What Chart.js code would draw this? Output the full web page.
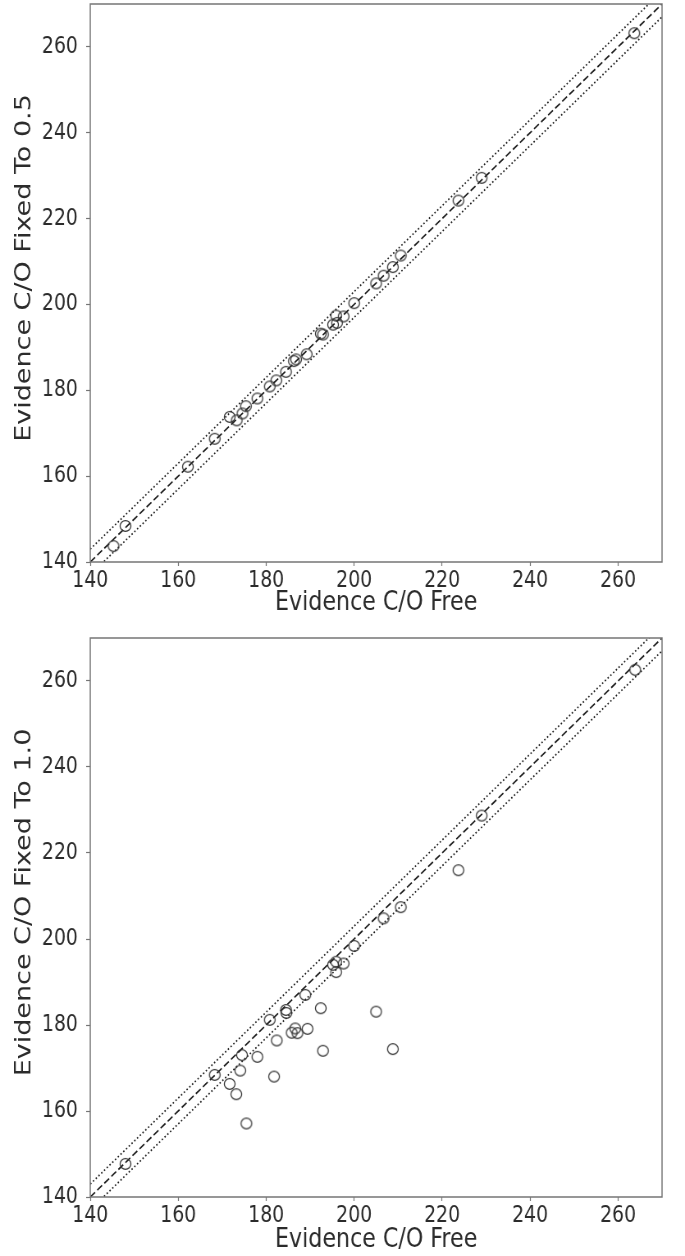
<!DOCTYPE html>
<html>
<head>
<meta charset="utf-8">
<title>Evidence C/O Free vs Fixed</title>
<script src="https://cdn.jsdelivr.net/npm/chart.js@4.4.1/dist/chart.umd.min.js"></script>
<style>
  body { margin: 0; background: #ffffff; }
</style>
</head>
<body>
<!-- canvases are drawn wider and squeezed to 685px, like the reference -->
<canvas id="topChart" width="835" height="628" style="width:685px;height:628px;"></canvas>
<canvas id="bottomChart" width="835" height="628" style="width:685px;height:628px;"></canvas>
<script>
// axis ticks, same on both panels
const tickValues = [140, 160, 180, 200, 220, 240, 260];
const axisRange = [140, 270];
const bandOffset = 3;

// top panel : C/O fixed to 0.5
const freeTop = [145.3, 148.0, 162.2, 168.3, 171.7, 173.3, 174.6, 175.4, 178.0, 180.8, 182.3, 184.5, 186.3, 186.8, 189.2,
	192.4, 192.9, 195.2, 195.9, 196.1, 197.6, 200.0, 205.0, 206.7, 208.8, 210.6, 223.7, 229.0, 263.7];
const fixedHalf = [143.7, 148.4, 162.2, 168.7, 173.8, 173.0, 174.6, 176.3, 178.1, 180.9, 182.3, 184.3, 186.8, 187.2, 188.4,
	193.2, 193.0, 195.3, 197.4, 195.7, 197.2, 200.3, 204.9, 206.7, 208.7, 211.4, 224.2, 229.5, 263.2];

// bottom panel : C/O fixed to 1.0
const freeBottom = [148.0, 168.3, 171.7, 173.2, 174.1, 174.5, 175.5, 178.0, 180.8, 181.8, 182.4, 184.5, 184.6, 185.8, 186.6,
	187.1, 188.9, 189.4, 192.4, 192.9, 195.2, 195.9, 195.9, 197.6, 200.0, 205.0, 206.7, 208.8, 210.6, 223.7, 229.0, 263.9];
const fixedOne = [147.7, 168.4, 166.3, 163.9, 169.4, 173.0, 157.1, 172.6, 181.2, 168.0, 176.4, 183.5, 182.8, 178.2, 179.2,
	178.1, 187.0, 179.1, 183.9, 174.0, 194.0, 194.7, 192.3, 194.3, 198.4, 183.1, 204.8, 174.4, 207.4, 216.0, 228.7, 262.6];

const textColor = "#2b2b2b";
const spineColor = "#757575";
const fontFamily = "'DejaVu Sans', sans-serif";
const squeeze = 685 / 835;

// open circle marker, drawn as a wide ellipse so it comes out round after the squeeze
function makeMarker() {
	let r = 5.4;
	let mk = document.createElement("canvas");
	mk.width = 18;
	mk.height = 14;
	let c = mk.getContext("2d");
	c.strokeStyle = "#333333";
	c.lineWidth = 1.3;
	c.beginPath();
	c.ellipse(9, 7, r / squeeze, r, 0, 0, Math.PI * 2);
	c.stroke();
	return mk;
}
const marker = makeMarker();

// frame on all four sides + rotated y label (matplotlib puts it a bit above centre)
const frameAndLabel = {
	id: "frameAndLabel",
	afterDraw(chart, args, opts) {
		let ctx = chart.ctx;
		let area = chart.chartArea;
		ctx.save();
		ctx.strokeStyle = spineColor;
		ctx.lineWidth = 1.5;
		ctx.strokeRect(area.left, area.top, area.right - area.left, area.bottom - area.top);

		ctx.fillStyle = textColor;
		ctx.font = "27px " + fontFamily;
		ctx.textAlign = "center";
		ctx.textBaseline = "middle";
		ctx.translate(opts.x, (area.top + area.bottom) / 2 - opts.shift);
		ctx.rotate(-Math.PI / 2);
		ctx.fillText(opts.text, 0, 0);
		ctx.restore();
	}
};

function lineData(offset) {
	return axisRange.map(v => ({x: v, y: v + offset}));
}

// no extra room for the end labels, the frame goes where we say
function noScalePadding(scale) {
	scale.paddingTop = 0;
	scale.paddingBottom = 0;
	scale.paddingLeft = 0;
	scale.paddingRight = 0;
}

function buildPanel(canvasId, xs, ys, yTitle, padTop, xAxisHeight, xTitlePad) {
	let points = xs.map((x, i) => ({x: x, y: ys[i]}));
	let ctx = document.getElementById(canvasId).getContext("2d");

	return new Chart(ctx, {
		type: "scatter",
		data: {
			datasets: [{
				data: points,
				pointStyle: marker,
				pointRadius: 6
			}, {
				type: "line",
				data: lineData(0),
				borderColor: "#1e1e1e",
				borderWidth: 1.7,
				borderDash: [7.5, 3.5],
				pointRadius: 0,
				fill: false
			}, {
				type: "line",
				data: lineData(bandOffset),
				borderColor: "#1e1e1e",
				borderWidth: 1.7,
				borderDash: [1.7, 2.6],
				pointRadius: 0,
				fill: false
			}, {
				type: "line",
				data: lineData(-bandOffset),
				borderColor: "#1e1e1e",
				borderWidth: 1.7,
				borderDash: [1.7, 2.6],
				pointRadius: 0,
				fill: false
			}]
		},
		options: {
			responsive: false,
			animation: false,
			devicePixelRatio: 1,
			layout: {autoPadding: false, padding: {top: padTop, right: 28, bottom: 0, left: 0}},
			plugins: {
				legend: {display: false},
				tooltip: {enabled: false},
				frameAndLabel: {text: yTitle, x: 30, shift: 15}
			},
			scales: {
				x: {
					type: "linear",
					min: axisRange[0],
					max: axisRange[1],
					afterBuildTicks: scale => { scale.ticks = tickValues.map(v => ({value: v})); },
					afterFit: scale => { scale.height = xAxisHeight; noScalePadding(scale); },
					border: {display: false},
					grid: {drawOnChartArea: false, drawTicks: true, tickLength: 4, tickColor: spineColor, tickWidth: 1.2},
					ticks: {color: textColor, padding: 1, font: {family: fontFamily, size: 23}, maxRotation: 0},
					title: {display: true, text: "Evidence C/O Free", color: textColor,
						font: {family: fontFamily, size: 27}, padding: {top: 0, bottom: xTitlePad}}
				},
				y: {
					type: "linear",
					min: axisRange[0],
					max: axisRange[1],
					afterBuildTicks: scale => { scale.ticks = tickValues.map(v => ({value: v})); },
					afterFit: scale => { scale.width = 110; noScalePadding(scale); },
					border: {display: false},
					grid: {drawOnChartArea: false, drawTicks: true, tickLength: 5, tickColor: spineColor, tickWidth: 1.2},
					ticks: {color: textColor, padding: 10, font: {family: fontFamily, size: 23}}
				}
			}
		},
		plugins: [frameAndLabel]
	});
}

buildPanel("topChart", freeTop, fixedHalf, "Evidence C/O Fixed To 0.5", 4, 66, 9);
buildPanel("bottomChart", freeBottom, fixedOne, "Evidence C/O Fixed To 1.0", 10, 59, 0);
</script>
</body>
</html>
